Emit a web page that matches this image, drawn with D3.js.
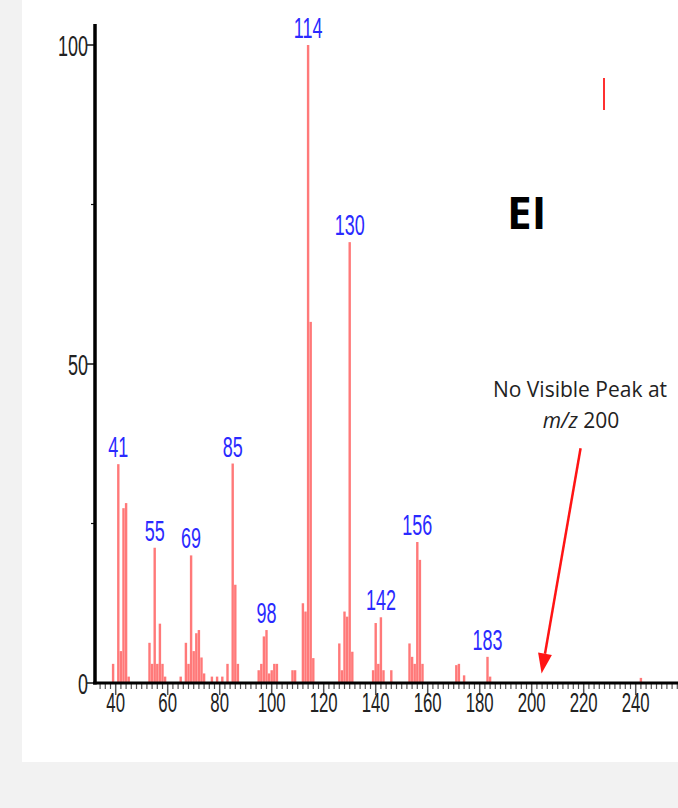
<!DOCTYPE html>
<html>
<head>
<meta charset="utf-8">
<script src="https://cdn.jsdelivr.net/npm/d3@7"></script>
<style>
  html, body { margin: 0; padding: 0; background: #f2f2f2; }
  svg { display: block; }
</style>
</head>
<body>
<svg id="chart" width="678" height="808"></svg>
<script>
// EI mass spectrum: m/z of each fragment and its relative abundance (%)
const mz = [39, 41, 42, 43, 44, 45,
  53, 54, 55, 56, 57, 58, 59,
  65, 67, 68, 69, 70, 71, 72, 73, 74,
  77, 79, 81, 83, 85, 86, 87,
  95, 96, 97, 98, 99, 100, 101, 102,
  108, 109, 112, 113, 114, 115, 116,
  126, 127, 128, 129, 130, 131,
  139, 140, 141, 142, 143, 146,
  153, 154, 155, 156, 157, 158,
  171, 172, 174, 183, 184, 242];
const abundance = [3, 34.3, 5, 27.4, 28.2, 1,
  6.3, 3, 21.2, 3, 9.3, 3, 1,
  1, 6.3, 3, 20, 5, 7.8, 8.3, 4, 1.5,
  1, 1, 1, 3, 34.4, 15.4, 3,
  2, 3, 7.3, 8.3, 1.5, 2, 3, 3,
  2, 2, 12.5, 11.2, 100, 56.6, 3.9,
  6.2, 2, 11.2, 10.4, 69.1, 4.9,
  2, 9.4, 3, 10.3, 2, 2,
  6.2, 4.1, 3, 22.1, 19.3, 3,
  2.8, 3, 1.2, 4.1, 1, 0.8];
// Peaks annotated with their m/z value
const labelled = [41, 55, 69, 85, 98, 114, 130, 142, 156, 183];
const xTicks = [40, 60, 80, 100, 120, 140, 160, 180, 200, 220, 240];
const yTicks = [0, 50, 100];
const yMinorTicks = [25, 75];

const svg = d3.select("#chart");
const x = d3.scaleLinear().domain([40, 240]).range([115.7, 635.7]);
const y = d3.scaleLinear().domain([0, 100]).range([683, 45]);
const condensed = "'Liberation Sans', Arial, sans-serif";

// white panel
svg.append("rect").attr("x", 22).attr("y", 0).attr("width", 656).attr("height", 762).attr("fill", "#ffffff");

// spectrum bars
const peaks = mz.map((m, i) => ({ m, v: abundance[i] }));
svg.append("g").selectAll("rect").data(peaks).join("rect")
  .attr("x", d => x(d.m) - 1.2)
  .attr("width", 2.4)
  .attr("y", d => y(d.v))
  .attr("height", d => y(0) - y(d.v))
  .attr("fill", "#ff5c5c")
  .attr("fill-opacity", 0.82);

// peak labels (tall condensed digits)
svg.append("g").selectAll("text").data(peaks.filter(d => labelled.includes(d.m))).join("text")
  .attr("transform", d => `translate(${x(d.m)},${y(d.v) - 7}) scale(0.6,1)`)
  .attr("text-anchor", "middle")
  .attr("font-family", condensed)
  .attr("font-size", 30)
  .attr("fill", "#2a2aff")
  .text(d => d.m);

// x axis: minor ticks every 2 units, major every 20
const xMinor = d3.range(34, 258, 2).filter(v => v % 20 !== 0);
svg.append("g").selectAll("line").data(xMinor).join("line")
  .attr("x1", d => x(d)).attr("x2", d => x(d))
  .attr("y1", y(0)).attr("y2", y(0) + 6)
  .attr("stroke", "#555").attr("stroke-width", 1.2);
svg.append("g").selectAll("line").data(xTicks).join("line")
  .attr("x1", d => x(d)).attr("x2", d => x(d))
  .attr("y1", y(0)).attr("y2", y(0) + 12)
  .attr("stroke", "#555").attr("stroke-width", 1.5);
svg.append("g").selectAll("text").data(xTicks).join("text")
  .attr("transform", d => `translate(${x(d)},${y(0) + 29}) scale(0.6,1)`)
  .attr("text-anchor", "middle")
  .attr("font-family", condensed)
  .attr("font-size", 28)
  .attr("fill", "#222")
  .text(d => d);

// y axis ticks and labels
svg.append("g").selectAll("line").data(yTicks).join("line")
  .attr("x1", 87).attr("x2", 95)
  .attr("y1", d => y(d)).attr("y2", d => y(d))
  .attr("stroke", "#111").attr("stroke-width", 1.5);
svg.append("g").selectAll("line").data(yMinorTicks).join("line")
  .attr("x1", 91).attr("x2", 95)
  .attr("y1", d => y(d)).attr("y2", d => y(d))
  .attr("stroke", "#111").attr("stroke-width", 1.2);
svg.append("g").selectAll("text").data(yTicks).join("text")
  .attr("transform", d => `translate(88,${y(d) + 11}) scale(0.6,1)`)
  .attr("text-anchor", "end")
  .attr("font-family", condensed)
  .attr("font-size", 30)
  .attr("fill", "#222")
  .text(d => d);

// axis lines
svg.append("line").attr("x1", 95).attr("x2", 95).attr("y1", 24).attr("y2", y(0) + 1.5)
  .attr("stroke", "#000").attr("stroke-width", 3.5);
svg.append("line").attr("x1", 93).attr("x2", 678).attr("y1", y(0)).attr("y2", y(0))
  .attr("stroke", "#000").attr("stroke-width", 3);

// ionisation mode
svg.append("text").attr("x", 507).attr("y", 229)
  .attr("font-family", "'Open Sans', sans-serif").attr("font-weight", "bold")
  .attr("font-size", 44).attr("fill", "#000").text("EI");

// stray red mark
svg.append("line").attr("x1", 604).attr("x2", 604).attr("y1", 78).attr("y2", 110)
  .attr("stroke", "#ff3030").attr("stroke-width", 2);

// annotation: missing molecular ion
const note = svg.append("text")
  .attr("font-family", "'Open Sans', sans-serif").attr("font-size", 21).attr("fill", "#222")
  .attr("text-anchor", "middle");
note.append("tspan").attr("x", 580).attr("y", 397).text("No Visible Peak at");
const l2 = note.append("tspan").attr("x", 581).attr("y", 428);
l2.append("tspan").attr("font-style", "italic").text("m/z");
l2.append("tspan").text(" 200");

const arrowFrom = { m: 218.8, v: 36.8 };
const arrowTo = { m: 203.8, v: 1.5 };
const ax1 = x(arrowFrom.m), ay1 = y(arrowFrom.v), ax2 = x(arrowTo.m), ay2 = y(arrowTo.v);
const ang = Math.atan2(ay2 - ay1, ax2 - ax1);
const headLen = 20, headW = 7;
const bx = ax2 - headLen * Math.cos(ang), by = ay2 - headLen * Math.sin(ang);
svg.append("line").attr("x1", ax1).attr("y1", ay1).attr("x2", bx).attr("y2", by)
  .attr("stroke", "#ff1414").attr("stroke-width", 2.5);
svg.append("path")
  .attr("d", `M${ax2},${ay2} L${bx - headW * Math.sin(ang)},${by + headW * Math.cos(ang)} L${bx + headW * Math.sin(ang)},${by - headW * Math.cos(ang)} Z`)
  .attr("fill", "#ff1414");
</script>
</body>
</html>
